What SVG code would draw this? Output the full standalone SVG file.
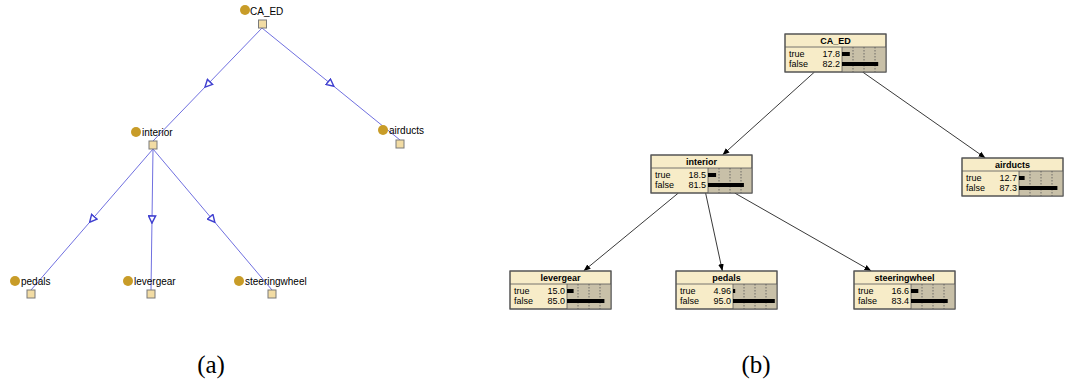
<svg xmlns="http://www.w3.org/2000/svg" width="1067" height="385" viewBox="0 0 1067 385">
<style>
.al{font-family:"Liberation Sans",Arial,sans-serif;font-size:10px;fill:#000}
.ae{stroke:#7070e0;stroke-width:1;fill:none;marker-mid:url(#oa)}
.dot{fill:#c89c28}
.sq{fill:#f2dca4;stroke:#7a7a7a;stroke-width:1}
.be{stroke:#222;stroke-width:0.9;fill:none;marker-end:url(#fa)}
.bx{fill:#f7ecc8;stroke:#555;stroke-width:1}
.ba{fill:#c8c0a8}
.sep{stroke:#555;stroke-width:0.8}
.dl{stroke:#555;stroke-width:0.8;stroke-dasharray:1.5,1.5}
.bar{fill:#000}
.tt{font-family:"Liberation Sans",Arial,sans-serif;font-size:9px;font-weight:bold;text-anchor:middle;fill:#000}
.rt{font-family:"Liberation Sans",Arial,sans-serif;font-size:9px;fill:#000}
.rn{font-family:"Liberation Sans",Arial,sans-serif;font-size:9px;fill:#000;text-anchor:end}
.cap{font-family:"Liberation Serif","Times New Roman",serif;font-size:25px;fill:#000;text-anchor:middle}
</style>
<defs>
<marker id="oa" viewBox="0 0 10 10" refX="5" refY="5" markerWidth="9" markerHeight="9" markerUnits="userSpaceOnUse" orient="auto">
<path d="M1,1 L9,5 L1,9 Z" fill="#fff" stroke="#4040d0" stroke-width="1.6"/>
</marker>
<marker id="fa" viewBox="0 0 10 10" refX="10" refY="5" markerWidth="7" markerHeight="7" markerUnits="userSpaceOnUse" orient="auto">
<path d="M0,1 L10,5 L0,9 Z" fill="#000"/>
</marker>
<g id="dl">
<line class="dl" x1="11" y1="13" x2="11" y2="38"/>
<line class="dl" x1="22" y1="13" x2="22" y2="38"/>
<line class="dl" x1="33" y1="13" x2="33" y2="38"/>
</g>
</defs>

<g id="a-edges">
<path class="ae" d="M262,28 L207.5,84.5 L153,141"/>
<path class="ae" d="M262,28 L331,84 L400,140"/>
<path class="ae" d="M153,149 L92,219.5 L31,290"/>
<path class="ae" d="M153,149 L152,219.5 L151,290"/>
<path class="ae" d="M153,149 L212.5,219.5 L272,290"/>
</g>

<g id="a-CA_ED">
<circle class="dot" cx="245" cy="10" r="5"/>
<text class="al" x="250" y="15">CA_ED</text>
<rect class="sq" x="258.5" y="20" width="8" height="8"/>
</g>
<g id="a-interior">
<circle class="dot" cx="136" cy="132" r="5"/>
<text class="al" x="142" y="136">interior</text>
<rect class="sq" x="149" y="141" width="8" height="8"/>
</g>
<g id="a-airducts">
<circle class="dot" cx="383" cy="130" r="5"/>
<text class="al" x="389" y="134">airducts</text>
<rect class="sq" x="396" y="140" width="8" height="8"/>
</g>
<g id="a-pedals">
<circle class="dot" cx="15" cy="281" r="5"/>
<text class="al" x="21" y="285">pedals</text>
<rect class="sq" x="27" y="290" width="8" height="8"/>
</g>
<g id="a-levergear">
<circle class="dot" cx="128" cy="281" r="5"/>
<text class="al" x="134" y="285">levergear</text>
<rect class="sq" x="147" y="290" width="8" height="8"/>
</g>
<g id="a-steeringwheel">
<circle class="dot" cx="239" cy="281" r="5"/>
<text class="al" x="245" y="285">steeringwheel</text>
<rect class="sq" x="268" y="290" width="8" height="8"/>
</g>

<g id="b-edges">
<line class="be" x1="814.5" y1="72" x2="722.5" y2="155"/>
<line class="be" x1="862.6" y1="72" x2="985.4" y2="158"/>
<line class="be" x1="678.4" y1="193" x2="583.6" y2="271"/>
<line class="be" x1="705.6" y1="193" x2="722.4" y2="271"/>
<line class="be" x1="734.7" y1="193" x2="871.3" y2="271"/>
</g>

<g id="b-CA_ED" transform="translate(785,34)">
<rect class="bx" x="0" y="0" width="101" height="38"/>
<rect class="ba" x="57" y="13" width="44" height="25"/>
<use href="#dl" x="57"/>
<line class="sep" x1="0" y1="13" x2="101" y2="13"/>
<line class="sep" x1="57" y1="13" x2="57" y2="38"/>
<rect x="0" y="0" width="101" height="38" style="fill:none;stroke:#555"/>
<text class="tt" x="50.5" y="10">CA_ED</text>
<text class="rt" x="4" y="23">true</text><text class="rn" x="55" y="23">17.8</text>
<text class="rt" x="4" y="33">false</text><text class="rn" x="55" y="33">82.2</text>
<rect class="bar" x="57" y="18" width="7.8" height="4"/>
<rect class="bar" x="57" y="28" width="36.2" height="4"/>
</g>

<g id="b-interior" transform="translate(651,155)">
<rect class="bx" x="0" y="0" width="101" height="38"/>
<rect class="ba" x="57" y="13" width="44" height="25"/>
<use href="#dl" x="57"/>
<line class="sep" x1="0" y1="13" x2="101" y2="13"/>
<line class="sep" x1="57" y1="13" x2="57" y2="38"/>
<rect x="0" y="0" width="101" height="38" style="fill:none;stroke:#555"/>
<text class="tt" x="50.5" y="10">interior</text>
<text class="rt" x="4" y="23">true</text><text class="rn" x="55" y="23">18.5</text>
<text class="rt" x="4" y="33">false</text><text class="rn" x="55" y="33">81.5</text>
<rect class="bar" x="57" y="18" width="8.1" height="4"/>
<rect class="bar" x="57" y="28" width="35.9" height="4"/>
</g>

<g id="b-airducts" transform="translate(962,158)">
<rect class="bx" x="0" y="0" width="101" height="38"/>
<rect class="ba" x="57" y="13" width="44" height="25"/>
<use href="#dl" x="57"/>
<line class="sep" x1="0" y1="13" x2="101" y2="13"/>
<line class="sep" x1="57" y1="13" x2="57" y2="38"/>
<rect x="0" y="0" width="101" height="38" style="fill:none;stroke:#555"/>
<text class="tt" x="50.5" y="10">airducts</text>
<text class="rt" x="4" y="23">true</text><text class="rn" x="55" y="23">12.7</text>
<text class="rt" x="4" y="33">false</text><text class="rn" x="55" y="33">87.3</text>
<rect class="bar" x="57" y="18" width="5.6" height="4"/>
<rect class="bar" x="57" y="28" width="38.4" height="4"/>
</g>

<g id="b-levergear" transform="translate(510,271)">
<rect class="bx" x="0" y="0" width="101" height="38"/>
<rect class="ba" x="57" y="13" width="44" height="25"/>
<use href="#dl" x="57"/>
<line class="sep" x1="0" y1="13" x2="101" y2="13"/>
<line class="sep" x1="57" y1="13" x2="57" y2="38"/>
<rect x="0" y="0" width="101" height="38" style="fill:none;stroke:#555"/>
<text class="tt" x="50.5" y="10">levergear</text>
<text class="rt" x="4" y="23">true</text><text class="rn" x="55" y="23">15.0</text>
<text class="rt" x="4" y="33">false</text><text class="rn" x="55" y="33">85.0</text>
<rect class="bar" x="57" y="18" width="6.6" height="4"/>
<rect class="bar" x="57" y="28" width="37.4" height="4"/>
</g>

<g id="b-pedals" transform="translate(676,271)">
<rect class="bx" x="0" y="0" width="101" height="38"/>
<rect class="ba" x="57" y="13" width="44" height="25"/>
<use href="#dl" x="57"/>
<line class="sep" x1="0" y1="13" x2="101" y2="13"/>
<line class="sep" x1="57" y1="13" x2="57" y2="38"/>
<rect x="0" y="0" width="101" height="38" style="fill:none;stroke:#555"/>
<text class="tt" x="50.5" y="10">pedals</text>
<text class="rt" x="4" y="23">true</text><text class="rn" x="55" y="23">4.96</text>
<text class="rt" x="4" y="33">false</text><text class="rn" x="55" y="33">95.0</text>
<rect class="bar" x="57" y="18" width="2.2" height="4"/>
<rect class="bar" x="57" y="28" width="41.8" height="4"/>
</g>

<g id="b-steeringwheel" transform="translate(854,271)">
<rect class="bx" x="0" y="0" width="101" height="38"/>
<rect class="ba" x="57" y="13" width="44" height="25"/>
<use href="#dl" x="57"/>
<line class="sep" x1="0" y1="13" x2="101" y2="13"/>
<line class="sep" x1="57" y1="13" x2="57" y2="38"/>
<rect x="0" y="0" width="101" height="38" style="fill:none;stroke:#555"/>
<text class="tt" x="50.5" y="10">steeringwheel</text>
<text class="rt" x="4" y="23">true</text><text class="rn" x="55" y="23">16.6</text>
<text class="rt" x="4" y="33">false</text><text class="rn" x="55" y="33">83.4</text>
<rect class="bar" x="57" y="18" width="7.3" height="4"/>
<rect class="bar" x="57" y="28" width="36.7" height="4"/>
</g>

<text class="cap" x="211" y="373">(a)</text>
<text class="cap" x="756" y="373">(b)</text>
</svg>
